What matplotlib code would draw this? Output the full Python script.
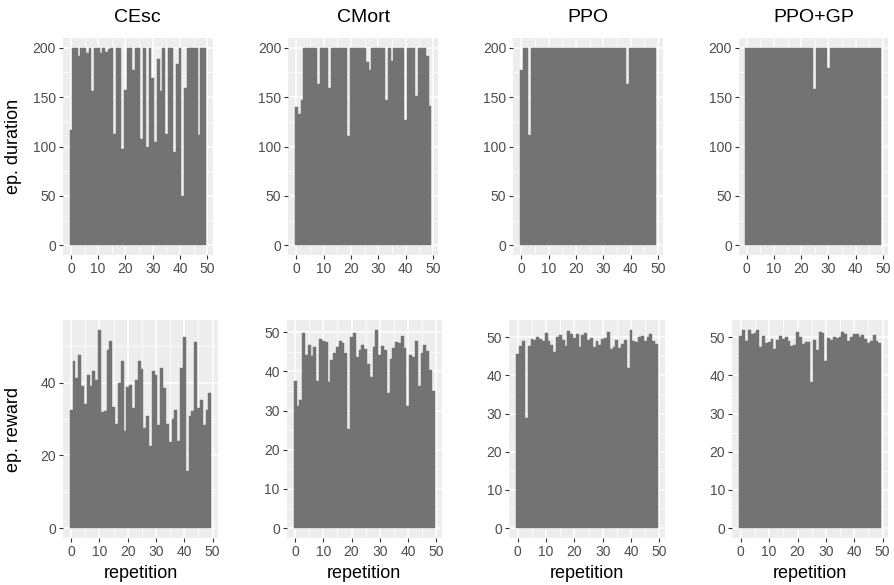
import numpy as np
import matplotlib
matplotlib.use('Agg')
import matplotlib.pyplot as plt
from matplotlib.ticker import MultipleLocator

plt.rcParams['font.family'] = ['Liberation Sans', 'DejaVu Sans']

repetition = np.arange(50)
methods = ['CEsc', 'CMort', 'PPO', 'PPO+GP']

# episode duration per repetition (top row)
cesc_duration = [117, 200, 200, 192, 200, 200, 195, 200, 156, 200,
                 200, 195, 200, 196, 199, 200, 113, 200, 200, 97,
                 157, 200, 200, 177, 200, 200, 108, 200, 100, 200,
                 169, 105, 188, 156, 200, 113, 200, 200, 94, 183,
                 200, 50, 159, 200, 200, 200, 200, 112, 200, 200]
cmort_duration = [140, 133, 147, 200, 200, 200, 200, 200, 163, 200,
                  200, 200, 159, 200, 200, 200, 200, 200, 200, 111,
                  200, 200, 200, 200, 200, 200, 185, 177, 200, 200,
                  200, 200, 200, 147, 200, 186, 200, 200, 200, 200,
                  127, 200, 200, 200, 151, 200, 200, 200, 192, 141]
ppo_duration = [177, 200, 200, 112, 200, 200, 200, 200, 200, 200,
                200, 200, 200, 200, 200, 200, 200, 200, 200, 200,
                200, 200, 200, 200, 200, 200, 200, 200, 200, 200,
                200, 200, 200, 200, 200, 200, 200, 200, 200, 163,
                200, 200, 200, 200, 200, 200, 200, 200, 200, 200]
ppogp_duration = [200, 200, 200, 200, 200, 200, 200, 200, 200, 200,
                  200, 200, 200, 200, 200, 200, 200, 200, 200, 200,
                  200, 200, 200, 200, 200, 158, 200, 200, 200, 200,
                  179, 200, 200, 200, 200, 200, 200, 200, 200, 200,
                  200, 200, 200, 200, 200, 200, 200, 200, 200, 200]

# episode reward per repetition (bottom row)
cesc_reward = [32.5, 46.0, 41.4, 47.6, 39.1, 34.1, 42.1, 39.1, 43.2, 40.7,
               54.5, 31.9, 32.2, 49.0, 51.5, 33.3, 28.6, 39.9, 46.0, 26.7,
               38.8, 39.4, 33.0, 40.7, 46.0, 43.8, 27.5, 30.8, 22.6, 43.2,
               42.1, 28.3, 44.0, 38.5, 28.6, 23.7, 30.0, 32.5, 23.9, 44.0,
               52.6, 15.7, 30.8, 32.2, 51.2, 33.0, 35.2, 28.3, 32.5, 37.2]
cmort_reward = [37.6, 31.3, 32.7, 49.8, 44.2, 46.8, 44.0, 46.3, 37.6, 48.3,
                47.8, 47.5, 37.3, 42.9, 44.7, 46.3, 47.8, 47.3, 44.7, 25.3,
                48.8, 49.8, 43.7, 45.5, 46.8, 45.7, 41.9, 38.6, 46.3, 50.6,
                44.2, 46.5, 45.5, 34.5, 43.2, 46.0, 47.5, 47.3, 49.1, 46.0,
                31.2, 44.2, 43.7, 47.8, 36.3, 44.7, 46.8, 45.2, 40.4, 35.0]
ppo_reward = [45.6, 47.7, 49.0, 28.8, 47.7, 49.6, 49.3, 50.1, 49.6, 49.0,
              51.1, 49.0, 48.0, 46.2, 50.1, 50.6, 49.3, 47.7, 51.7, 50.9,
              49.8, 50.9, 47.5, 50.6, 51.1, 49.3, 49.8, 47.5, 49.0, 48.0,
              49.6, 49.8, 51.4, 46.9, 47.5, 49.3, 47.2, 48.3, 49.3, 42.0,
              51.9, 49.0, 48.8, 50.1, 50.3, 49.0, 50.1, 50.9, 49.0, 48.3]
ppogp_reward = [50.3, 51.9, 49.0, 51.9, 50.9, 51.1, 51.9, 47.5, 50.3, 48.5,
                48.8, 49.6, 46.9, 49.3, 50.3, 49.6, 50.1, 49.0, 47.7, 48.0,
                51.4, 50.1, 48.3, 48.8, 48.8, 38.3, 49.3, 46.7, 51.4, 51.1,
                43.8, 49.8, 49.3, 50.1, 49.8, 50.1, 51.4, 50.9, 49.0, 50.1,
                50.9, 50.9, 50.1, 50.6, 49.6, 48.5, 49.0, 50.6, 49.0, 48.5]

durations = [cesc_duration, cmort_duration, ppo_duration, ppogp_duration]
rewards = [cesc_reward, cmort_reward, ppo_reward, ppogp_reward]
reward_steps = [20, 10, 10, 10]

W, H = 895, 585
fig = plt.figure(figsize=(W / 100, H / 100), dpi=100)


def px_axes(x0, x1, y0, y1):
    # place an axes using pixel coords measured from the top-left corner
    return fig.add_axes([x0 / W, 1 - y1 / H, (x1 - x0) / W, (y1 - y0) / H])


def style(ax, values, ystep):
    ax.set_facecolor('#EDEDED')
    ax.bar(repetition, values, width=1.0, color='#737373',
           edgecolor='#737373', linewidth=0.3, zorder=2)
    top = max(values)
    ax.set_xlim(-3, 52)
    ax.set_ylim(-0.05 * top, 1.05 * top)
    ax.xaxis.set_major_locator(MultipleLocator(10))
    ax.xaxis.set_minor_locator(MultipleLocator(5))
    ax.yaxis.set_major_locator(MultipleLocator(ystep))
    ax.yaxis.set_minor_locator(MultipleLocator(ystep / 2))
    ax.grid(which='major', color='white', linewidth=1.1)
    ax.grid(which='minor', color='white', linewidth=0.55)
    ax.set_axisbelow(True)
    for s in ax.spines.values():
        s.set_visible(False)
    ax.tick_params(which='major', length=3, width=0.8, color='#333333',
                   labelsize=10, labelcolor='#4D4D4D', pad=2)
    ax.tick_params(which='minor', length=0)


top_boxes = [(62.7, 212.7), (288.3, 438.3), (513.3, 663.3), (738.7, 888.3)]
bottom_boxes = [(62.7, 218.3), (286.7, 441.7), (509.3, 665.0), (732.3, 888.3)]

for i, name in enumerate(methods):
    x0, x1 = top_boxes[i]
    ax = px_axes(x0, x1, 37.7, 255.3)
    style(ax, durations[i], 50)
    fig.text((x0 + x1) / 2 / W, 1 - 18 / H, name, ha='center', va='center',
             fontsize=14)

    x0, x1 = bottom_boxes[i]
    ax = px_axes(x0, x1, 320, 538)
    style(ax, rewards[i], reward_steps[i])
    fig.text((x0 + x1) / 2 / W, 1 - 573 / H, 'repetition', ha='center',
             va='center', fontsize=13)

fig.text(14 / W, 1 - 146.5 / H, 'ep. duration', rotation=90, ha='center',
         va='center', fontsize=13)
fig.text(14 / W, 1 - 429 / H, 'ep. reward', rotation=90, ha='center',
         va='center', fontsize=13)

fig.savefig('out.png', dpi=100)
